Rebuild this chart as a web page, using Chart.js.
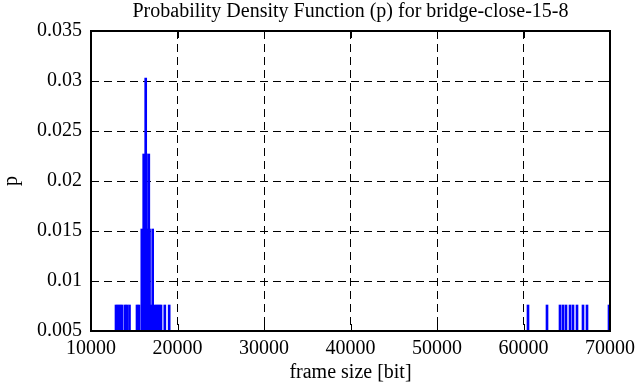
<!DOCTYPE html>
<html>
<head>
<meta charset="utf-8">
<script src="https://cdn.jsdelivr.net/npm/chart.js@4.4.1/dist/chart.umd.min.js"></script>
<style>
  html, body { margin: 0; padding: 0; background: #fff; }
  #wrap { width: 636px; height: 387px; }
</style>
</head>
<body>
<div id="wrap"><canvas id="pdf"></canvas></div>
<script>
// frame sizes [bit]
const frameSizes = [
    12890, 13121, 13353, 13584, 13931, 14162, 14451, 15318, 15549, 15873,
    16092, 16324, 16393, 16532, 16682, 16763, 16936, 17133, 17399, 17630,
    17861, 18092, 18532, 19040,
    60520, 62717, 64220, 64566, 64913, 65376, 65723, 66185, 66879, 67341, 69884
];
// probability for each frame size
const probs = [
    0.0076, 0.0076, 0.0076, 0.0076, 0.0076, 0.0076, 0.0076, 0.0076, 0.0076, 0.0152,
    0.0227, 0.0303, 0.0227, 0.0152, 0.0227, 0.0152, 0.0076, 0.0152, 0.0076, 0.0076,
    0.0076, 0.0076, 0.0076, 0.0076,
    0.0076, 0.0076, 0.0076, 0.0076, 0.0076, 0.0076, 0.0076, 0.0076, 0.0076, 0.0076, 0.0076
];
const xTicks = [10000, 20000, 30000, 40000, 50000, 60000, 70000];
const yTicks = [0.005, 0.01, 0.015, 0.02, 0.025, 0.03, 0.035];

const FONT = "'Liberation Serif', 'Times New Roman', serif";

// gnuplot style frame: solid border + inner ticks on all four sides
const framePlugin = {
    id: 'frame',
    afterDraw(chart) {
        const { ctx, chartArea: a, scales } = chart;
        const len = 7;
        ctx.save();
        ctx.strokeStyle = '#000';
        ctx.lineWidth = 1;
        ctx.setLineDash([]);
        ctx.beginPath();
        xTicks.forEach(v => {
            const x = Math.round(scales.x.getPixelForValue(v)) + 0.5;
            ctx.moveTo(x, a.bottom); ctx.lineTo(x, a.bottom - len);
            ctx.moveTo(x, a.top); ctx.lineTo(x, a.top + len);
        });
        yTicks.forEach(v => {
            const y = Math.round(scales.y.getPixelForValue(v)) + 0.5;
            ctx.moveTo(a.left, y); ctx.lineTo(a.left + len, y);
            ctx.moveTo(a.right, y); ctx.lineTo(a.right - len, y);
        });
        ctx.stroke();
        ctx.lineWidth = 2;
        ctx.strokeRect(a.left, a.top, a.right - a.left, a.bottom - a.top);
        ctx.restore();
    }
};

new Chart(document.getElementById('pdf'), {
    type: 'bar',
    data: {
        datasets: [{
            label: 'p',
            data: frameSizes.map((s, i) => ({ x: s, y: probs[i] })),
            backgroundColor: '#0000ff',
            borderWidth: 0,
            barThickness: 2
        }]
    },
    options: {
        responsive: true,
        maintainAspectRatio: false,
        animation: false,
        layout: { padding: { left: 0, right: 26, top: 0, bottom: 0 } },
        plugins: {
            legend: { display: false },
            tooltip: { enabled: false },
            title: {
                display: true,
                fullSize: false,
                text: 'Probability Density Function (p) for bridge-close-15-8',
                color: '#000',
                font: { family: FONT, size: 20, weight: 'normal' },
                padding: { top: 0, bottom: 7 }
            }
        },
        scales: {
            x: {
                type: 'linear',
                min: 10000,
                max: 70000,
                offset: false,
                afterBuildTicks: s => { s.ticks = xTicks.map(v => ({ value: v })); },
                afterFit: s => { s.height = 56; s.paddingLeft = 0; s.paddingRight = 0; },
                ticks: {
                    color: '#000',
                    padding: 6,
                    maxRotation: 0,
                    font: { family: FONT, size: 20 },
                    callback: v => String(v)
                },
                grid: { color: '#000', lineWidth: 1, drawTicks: false, offset: false },
                border: { display: false, dash: [8, 5] },
                title: {
                    display: true,
                    text: 'frame size [bit]',
                    color: '#000',
                    font: { family: FONT, size: 20 },
                    padding: { top: 0, bottom: 2 }
                }
            },
            y: {
                min: 0.005,
                max: 0.035,
                afterBuildTicks: s => { s.ticks = yTicks.map(v => ({ value: v })); },
                afterFit: s => { s.width = 91; },
                ticks: {
                    color: '#000',
                    padding: 9,
                    font: { family: FONT, size: 20 },
                    callback: v => String(+v.toFixed(3))
                },
                grid: { color: '#000', lineWidth: 1, drawTicks: false },
                border: { display: false, dash: [8, 5] },
                title: {
                    display: true,
                    text: 'p',
                    color: '#000',
                    font: { family: FONT, size: 20 },
                    padding: { top: 0, bottom: 0 }
                }
            }
        }
    },
    plugins: [framePlugin]
});
</script>
</body>
</html>
